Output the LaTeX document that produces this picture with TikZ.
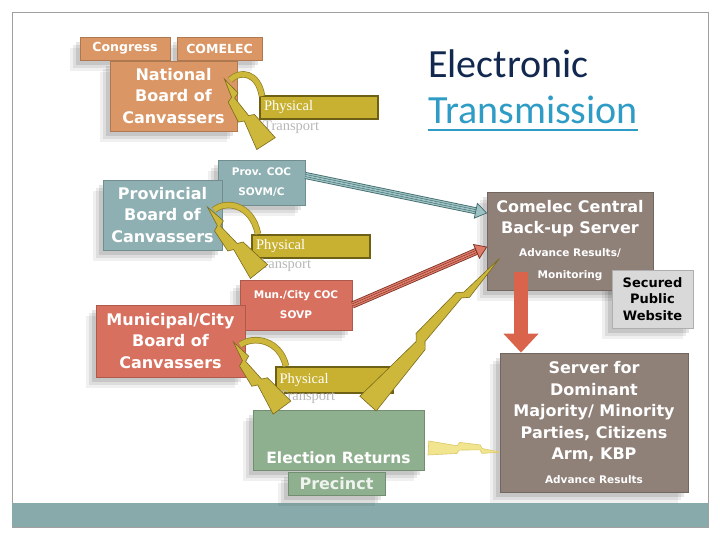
\documentclass[tikz,border=0pt]{standalone}
\usepackage{fontspec}
\setmainfont{DejaVu Sans}
\newfontfamily\serfont{Liberation Serif}
\newfontfamily\titlefont{Carlito}
\usetikzlibrary{calc,arrows.meta}
\pgfdeclarelayer{bglayer}
\pgfdeclarelayer{shadowlayer}
\pgfsetlayers{bglayer,shadowlayer,main}
\definecolor{orng}{HTML}{DA9664}
\definecolor{tealb}{HTML}{8FB0B2}
\definecolor{salm}{HTML}{D87060}
\definecolor{grn}{HTML}{8FB08F}
\definecolor{taupe}{HTML}{8F8078}
\definecolor{ltgray}{HTML}{D9D9D9}
\definecolor{olv}{HTML}{C8B030}
\definecolor{olvdark}{HTML}{6E6014}
\definecolor{boltf}{HTML}{CDB83C}
\definecolor{boltd}{HTML}{7A6A1A}
\definecolor{paleb}{HTML}{F2E590}
\definecolor{palebd}{HTML}{DCC868}
\definecolor{barc}{HTML}{88AAAA}
\definecolor{navy}{HTML}{13284F}
\definecolor{tblue}{HTML}{2F9CC6}
\definecolor{redarr}{HTML}{D9644B}
\definecolor{tealdk}{HTML}{3F6668}
\definecolor{tealarr}{HTML}{9CC2C4}
\definecolor{salmdk}{HTML}{7A3024}
\definecolor{salmarr}{HTML}{DD7A68}

\newcommand\fz[2]{\fontsize{#1}{#2}\selectfont\bfseries}

% #1 fill, #2 draw, #3 wide end, #4 tip, #5 half width
\newcommand\zbolt[5]{%
 \filldraw[fill=#1, draw=#2, line width=.6pt, line join=miter]
 ($(#3)!#5pt!90:(#4)$)
 -- ($(#3)!0.40!(#4)!0.55*#5pt!90:(#4)$)
 -- ($(#3)!0.43!(#4)!1.05*#5pt!90:(#4)$)
 -- ($(#3)!0.72!(#4)!0.85*#5pt!90:(#4)$)
 -- ($(#3)!0.75!(#4)!0.35*#5pt!90:(#4)$)
 -- (#4)
 -- ($(#3)!0.75!(#4)!0.35*#5pt!-90:(#4)$)
 -- ($(#3)!0.72!(#4)!0.15*#5pt!90:(#4)$)
 -- ($(#3)!0.43!(#4)!0.05*#5pt!-90:(#4)$)
 -- ($(#3)!0.40!(#4)!0.55*#5pt!-90:(#4)$)
 -- ($(#3)!#5pt!-90:(#4)$) -- cycle;}

% #1 dark, #2 light, #3 from, #4 to
\newcommand\striped[4]{%
 \draw[#1, line width=7pt, shorten >=9pt] (#3) -- (#4);
 \draw[#2, line width=5.4pt, shorten >=9pt] (#3) -- (#4);
 \draw[#1, line width=.5pt, double=#2, double distance=1.6pt, shorten >=9pt] (#3) -- (#4);
 \filldraw[draw=#1, fill=#2, line width=.7pt] (#4) -- ($(#4)!11pt!(#3)!7.5pt!90:(#3)$) -- ($(#4)!11pt!(#3)!7.5pt!-90:(#3)$) -- cycle;}

% soft shadow below-left of a node
\newcommand\shad[1]{%
 \begin{pgfonlayer}{shadowlayer}
 \fill[black, opacity=.06] ($(#1.north west)+(-10,11)$) rectangle ($(#1.south east)+(-10,11)$);
 \fill[black, opacity=.08] ($(#1.north west)+(-7,8)$) rectangle ($(#1.south east)+(-7,8)$);
 \fill[black, opacity=.10] ($(#1.north west)+(-4,5)$) rectangle ($(#1.south east)+(-4,5)$);
 \end{pgfonlayer}}

\begin{document}
\begin{tikzpicture}[x=1pt,y=-1pt,
 box/.style={fill=#1, draw=#1!80!black, line width=.8pt, text=white, align=center, inner sep=0pt},
 ptbox/.style={fill=olv, draw=olvdark, line width=1.2pt, inner sep=0pt, minimum height=23, text=white,
   font=\serfont\fontsize{14.5}{16}\selectfont, text width=110pt, align=left},
 ptlab/.style={text=black!28, font=\serfont\fontsize{14.5}{16}\selectfont, anchor=west, inner sep=0pt},
 arcband/.style={line width=6.5pt, draw=boltd!70!boltf},
 arcin/.style={line width=5pt, draw=boltf},
 boxtext/.style={text=white, align=center, inner sep=0pt}
]
\useasboundingbox (0,0) rectangle (720,540);
\begin{pgfonlayer}{bglayer}
\fill[white] (0,0) rectangle (720,540);
\draw[gray!75, line width=.8pt] (12,12) rectangle (708,527);
\fill[barc] (12,503) rectangle (708,527);
\end{pgfonlayer}

% title
\node[font=\titlefont\fontsize{40}{48}\selectfont, text=navy, anchor=base west, inner sep=0pt] (t1) at (428,78) {Electronic};
\node[font=\titlefont\fontsize{40}{48}\selectfont, text=tblue, anchor=base west, inner sep=0pt] (t2) at (428,124) {Transmission};
\draw[tblue, line width=2.6pt] ([yshift=-6pt]t2.base west) -- ([yshift=-6pt]t2.base east);

% national level
\node[box=orng, minimum width=127, minimum height=70, font=\fz{16}{21.5}] (national) at (173.5,96) {National\\Board of\\Canvassers};
\node[box=orng, minimum width=90, minimum height=23, font=\fz{12.5}{14}] (congress) at (125,48.5) {Congress};
\node[box=orng, minimum width=85, minimum height=23, font=\fz{12.5}{14}] (comelec) at (219.5,48.5) {COMELEC};

% provincial level
\node[box=tealb, minimum width=87, minimum height=45, font=\fz{10.5}{20}] (provcoc) at (261.5,182.5) {Prov. COC\\SOVM/C};
\node[box=tealb, minimum width=119, minimum height=70, font=\fz{16}{21.5}] (prov) at (162.5,215) {Provincial\\Board of\\Canvassers};

% municipal level
\node[box=salm, minimum width=112, minimum height=50, font=\fz{10.5}{20}] (muncoc) at (296,305) {Mun./City COC\\SOVP};
\node[box=salm, minimum width=149, minimum height=72, font=\fz{16}{21.5}] (mun) at (170.5,341) {Municipal/City\\Board of\\Canvassers};

% precinct level
\node[box=grn, minimum width=171, minimum height=60] (er) at (338.5,440) {};
\node[boxtext, font=\fz{15.5}{18}] (ertext) at (338.5,458) {Election Returns};
\node[box=grn, minimum width=97, minimum height=23, font=\fz{16}{18}, text=white!85!grn] (precinct) at (336.5,483.5) {Precinct};

% servers
\node[box=taupe, minimum width=166, minimum height=98] (central) at (570,241) {};
\node[boxtext, font=\fz{16}{21}] (centralt) at (570,218.5) {Comelec Central\\Back-up Server};
\node[boxtext, font=\fz{10.5}{22}] (centrals) at (570,265) {Advance Results/\\Monitoring};

\coordinate (b5w) at ([xshift=4pt, yshift=-8pt]er.east);
\coordinate (b5t) at (500,452);
\zbolt{paleb}{palebd}{b5w}{b5t}{7}

\node[box=taupe, minimum width=188, minimum height=139] (dominant) at (594,422.5) {};
\node[boxtext, font=\fz{16}{21.5}] (dominantt) at (594,412) {Server for\\Dominant\\Majority/ Minority\\Parties, Citizens\\Arm, KBP};
\node[boxtext, font=\fz{10.5}{12}] (dominants) at (594,480) {Advance Results};

\node[box=ltgray, text=black, minimum width=81, minimum height=58, font=\fz{13}{16.5}] (website) at (652.5,299) {Secured\\Public\\Website};

% shadows
\shad{national}\shad{congress}\shad{comelec}
\shad{provcoc}\shad{prov}\shad{muncoc}\shad{mun}
\shad{er}\shad{precinct}\shad{central}\shad{dominant}\shad{website}

% red down arrow
\coordinate (ra1) at ([xshift=-49pt, yshift=18pt]central.south);
\coordinate (ra2) at ([xshift=-73pt]dominant.north);
\draw[redarr, line width=14pt, -{Triangle[width=34pt,length=19pt]}] (ra1) -- (ra2);

% striped arrows
\coordinate (ta1) at ([yshift=7pt]provcoc.east);
\coordinate (ta2) at ([yshift=28pt]central.west);
\striped{tealdk}{tealarr}{ta1}{ta2}
\coordinate (sa1) at (muncoc.east);
\coordinate (sa2) at ([yshift=-6pt]central.west);
\striped{salmdk}{salmarr}{sa1}{sa2}

% physical transport boxes
\node[ptbox, minimum width=118] (pt1) at (319,107.5) {Physical};
\node[ptlab] (pt1b) at (263,127) {Transport};
\node[ptbox, minimum width=118] (pt2) at (311,246.5) {Physical};
\node[ptlab] (pt2b) at (255,265) {Transport};
\node[ptbox, minimum width=117, minimum height=26] (pt3) at (334.5,380) {Physical};
\node[ptlab] (pt3b) at (279,397) {Transport};

% arcs
\coordinate (a1s) at (230,80); \coordinate (a1e) at (262,96);
\draw[arcband] (a1s) .. controls (240,70) and (258,72) .. (a1e);
\draw[arcin] (a1s) .. controls (240,70) and (258,72) .. (a1e);
\coordinate (a2s) at (214,210); \coordinate (a2e) at (258,234);
\draw[arcband] (a2s) .. controls (226,200) and (252,204) .. (a2e);
\draw[arcin] (a2s) .. controls (226,200) and (252,204) .. (a2e);
\coordinate (a3s) at (240,345); \coordinate (a3e) at (286,366);
\draw[arcband] (a3s) .. controls (254,335) and (280,340) .. (a3e);
\draw[arcin] (a3s) .. controls (254,335) and (280,340) .. (a3e);

% bolts
\coordinate (b1t) at ([xshift=-13pt, yshift=17pt]national.east);
\coordinate (b1w) at ([xshift=4.5pt, yshift=16pt]provcoc.north);
\zbolt{boltf}{boltd}{b1w}{b1t}{11}
\coordinate (b2t) at ([xshift=-15pt, yshift=8pt]prov.east);
\coordinate (b2w) at ([xshift=-37pt, yshift=8pt]muncoc.north);
\zbolt{boltf}{boltd}{b2w}{b2t}{11}
\coordinate (b3t) at ([xshift=-12pt, yshift=-1pt]mun.east);
\coordinate (b3w) at ([xshift=-56.5pt, yshift=2pt]er.north);
\zbolt{boltf}{boltd}{b3w}{b3t}{11}
\coordinate (b4w) at ([xshift=29.5pt, yshift=6pt]er.north);
\coordinate (b4t) at ([xshift=13pt, yshift=32pt]central.south west);
\zbolt{boltf}{boltd}{b4w}{b4t}{11}
\end{tikzpicture}
\end{document}
